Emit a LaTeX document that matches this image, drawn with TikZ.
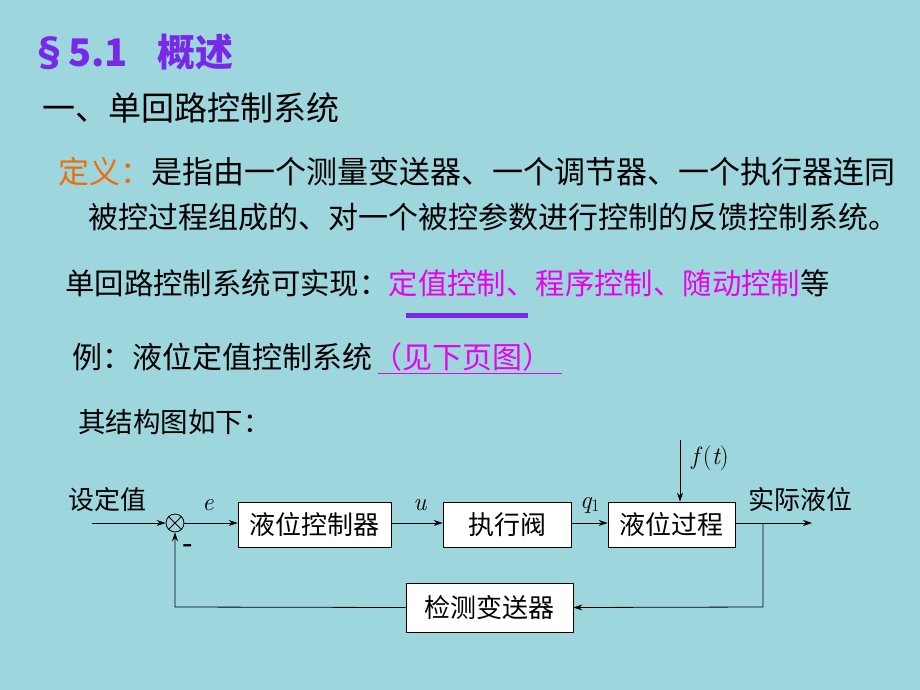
\documentclass[tikz,border=0pt]{standalone}
\usepackage{fontspec}
\newfontfamily\cjk{Noto Sans CJK SC}
\usetikzlibrary{arrows.meta}
\definecolor{bg}{RGB}{158,214,222}
\definecolor{ttl}{RGB}{120,40,230}
\definecolor{mag}{RGB}{235,0,235}
\definecolor{org}{RGB}{240,110,10}
\begin{document}
\begin{tikzpicture}[x=1pt,y=-1pt,
  txt/.style={anchor=west,inner sep=0pt,font=\cjk\fontsize{30}{30}\selectfont},
  blk/.style={draw,fill=white,line width=0.8pt,minimum height=45pt,inner sep=0pt,font=\cjk\fontsize{26}{26}\selectfont},
  lab/.style={inner sep=0pt,font=\cjk\fontsize{26}{26}\selectfont},
  sig/.style={inner sep=0pt,font=\itshape\fontsize{25}{25}\selectfont},
  ar/.style={-{Stealth[length=9pt,width=6pt]},line width=0.8pt},
  ln/.style={line width=0.8pt}]
\fill[bg] (0,0) rectangle (920,690);
\useasboundingbox (0,0) rectangle (920,690);
% title
\node[txt,font=\cjk\bfseries\fontsize{38}{38}\selectfont,text=ttl] (title) at (30,52) {§5.1\hspace{30pt}概述};
\node[txt,font=\cjk\fontsize{33}{33}\selectfont] (h1) at (42,108) {一、单回路控制系统};
\node[txt,font=\cjk\fontsize{31}{31}\selectfont] (d1) at (58,172) {\textcolor{org}{定义：}是指由一个测量变送器、一个调节器、一个执行器连同};
\node[txt] (d2) at (88,217) {被控过程组成的、对一个被控参数进行控制的反馈控制系统。};
\node[txt,font=\cjk\fontsize{29.4}{29.4}\selectfont] (s1) at (65,283) {单回路控制系统可实现：\textcolor{mag}{定值控制、程序控制、随动控制}等};
\fill[ttl] (406,313) rectangle (528,318);
\node[txt] (ex) at (72,357) {例：液位定值控制系统\textcolor{mag}{（见下页图）}};
\draw[mag,line width=0.8pt] (378,373) -- (562,373);
\node[txt,font=\cjk\fontsize{27.5}{27.5}\selectfont] (st) at (78,422) {其结构图如下：};
% diagram
\node[draw,circle,line width=0.8pt,minimum size=18pt,inner sep=0pt] (sum) at (175,523) {};
\draw[line width=0.8pt] (sum.45) -- (sum.225) (sum.135) -- (sum.315);
\node[blk,minimum width=153pt] (c) at (314.5,524.5) {液位控制器};
\node[blk,minimum width=128pt] (v) at (507,524.5) {执行阀};
\node[blk,minimum width=127pt] (p) at (671.5,524.5) {液位过程};
\node[blk,minimum width=167pt,minimum height=49pt] (m) at (489.5,607.5) {检测变送器};
\coordinate (in) at (92,523);
\coordinate (out) at (812,523);
\coordinate (br) at (763,523);
\coordinate (fb) at (763,607);
\coordinate (fl) at (175,607);
\coordinate (ft) at (680,440);
\draw[ar] (in) -- (sum);
\draw[ar] (sum) -- (c.west|-sum);
\draw[ar] (c.east|-sum) -- (v.west|-sum);
\draw[ar] (v.east|-sum) -- (p.west|-sum);
\draw[ar] (p.east|-sum) -- (out);
\draw[ar] (ft) -- (ft|-p.north);
\draw[ar] (br) -- (fb) -- (m.east);
\draw[ar] (m.west) -- (fl) -- (sum);
\node[lab] (l1) at (107,500) {设定值};
\node[lab] (l2) at (800,500) {实际液位};
\node[sig] (le) at (208,505) {e};
\node[sig] (lu) at (420,505) {u};
\node[sig] (lq) at (590,505) {q\textsubscript{\upshape 1}};
\node[sig] (lf) at (710,458) {f\,\upshape(\itshape t\upshape)};
\node[inner sep=0pt,font=\bfseries\fontsize{26}{26}\selectfont] (minus) at (188,548) {-};
\end{tikzpicture}
\end{document}
